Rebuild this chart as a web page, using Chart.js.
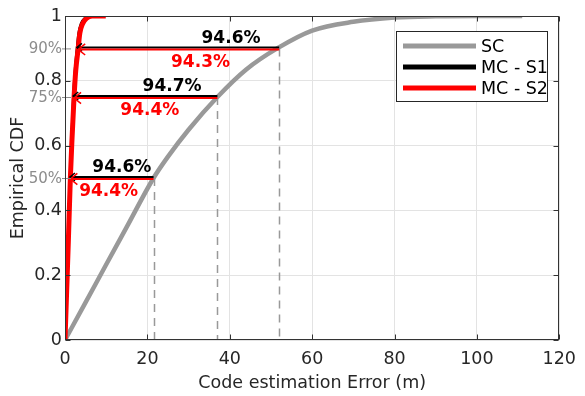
<!DOCTYPE html>
<html>
<head>
<meta charset="utf-8">
<script src="https://cdn.jsdelivr.net/npm/chart.js@4/dist/chart.umd.min.js"></script>
<style>
  body { margin: 0; background: #fff; }
  #wrap { width: 585px; height: 396px; position: relative; }
</style>
</head>
<body>
<div id="wrap"><canvas id="cdf"></canvas></div>
<script>
// ── Data ─────────────────────────────────────────────────────────────────────
const scX = [0, 5, 10, 15, 21.5, 25, 30, 37, 44, 51.5, 60, 70, 80, 90, 100, 111];
const scY = [0, 0.116, 0.233, 0.349, 0.5, 0.566, 0.649, 0.75, 0.835, 0.9, 0.955, 0.982, 0.995, 0.999, 1, 1];

const s1X = [0, 0.35, 0.75, 1.2, 1.6, 2.0, 2.4, 2.9, 3.3, 3.9, 4.8, 6.0, 8.0];
const s1Y = [0, 0.15, 0.3, 0.5, 0.62, 0.75, 0.83, 0.9, 0.947, 0.977, 0.993, 1, 1];

const s2X = [0, 0.4, 0.8, 1.3, 1.7, 2.2, 2.6, 3.2, 3.6, 4.3, 5.2, 6.6, 9.9];
const s2Y = [0, 0.15, 0.3, 0.5, 0.62, 0.75, 0.83, 0.9, 0.947, 0.977, 0.993, 1, 1];

// percentile arrows: level, where SC / S1 / S2 reach it, and the reduction labels
const levels     = [0.5, 0.75, 0.9];
const levelNames = ['50%', '75%', '90%'];
const scAt = [21.5, 37, 52];
const s1At = [1.2, 2.0, 2.9];
const s2At = [1.3, 2.2, 3.2];
const s1Pct = ['94.6%', '94.7%', '94.6%'];
const s2Pct = ['94.4%', '94.4%', '94.3%'];
const s1LabelX = [13.8, 26, 40.3];   // text anchor (data x)
const s2LabelX = [10.6, 20.6, 32.9];

const FONT = "'DejaVu Sans', Verdana, sans-serif";
const pts = (xs, ys) => xs.map((v, i) => ({x: v, y: ys[i]}));

// ── Helpers ──────────────────────────────────────────────────────────────────
function arrow(ctx, x0, x1, y, color, head) {
  ctx.strokeStyle = color;
  ctx.lineWidth = 2;
  ctx.beginPath(); ctx.moveTo(x0, y); ctx.lineTo(x1, y); ctx.stroke();
  ctx.lineWidth = 1.5;
  ctx.beginPath();
  ctx.moveTo(x1 + head, y - head * 0.8);
  ctx.lineTo(x1, y);
  ctx.lineTo(x1 + head, y + head * 0.8);
  ctx.stroke();
}

// ── Overlay plugin: drop lines, arrows, labels, box, legend ──────────────────
const overlay = {
  id: 'overlay',
  beforeDatasetsDraw(chart) {
    const {ctx, chartArea: a, scales: {x, y}} = chart;
    ctx.save();
    ctx.strokeStyle = '#999';
    ctx.lineWidth = 1.5;
    ctx.setLineDash([8, 6]);
    levels.forEach((lv, i) => {
      const px = Math.round(x.getPixelForValue(scAt[i])) + 0.5;
      ctx.beginPath();
      ctx.moveTo(px, y.getPixelForValue(lv));
      ctx.lineTo(px, a.bottom);
      ctx.stroke();
    });
    ctx.restore();
  },
  afterDatasetsDraw(chart) {
    const {ctx, chartArea: a, scales: {x, y}} = chart;
    ctx.save();
    levels.forEach((lv, i) => {
      const py = y.getPixelForValue(lv);
      const xs = x.getPixelForValue(scAt[i]);
      arrow(ctx, xs, x.getPixelForValue(s1At[i]), py - 1, '#000', 5);
      arrow(ctx, xs, x.getPixelForValue(s2At[i]), py + 1, '#ff0000', 7);

      ctx.font = 'bold 17px ' + FONT;
      ctx.textAlign = 'center';
      ctx.textBaseline = 'middle';
      ctx.fillStyle = '#000';
      ctx.fillText(s1Pct[i], x.getPixelForValue(s1LabelX[i]), py - 10);
      ctx.fillStyle = '#ff0000';
      ctx.fillText(s2Pct[i], x.getPixelForValue(s2LabelX[i]), py + 14);

      // gray percentile markers on the y axis
      ctx.font = '15px ' + FONT;
      ctx.textAlign = 'right';
      ctx.fillStyle = '#8c8c8c';
      ctx.fillText(levelNames[i], a.left - 3, py + 1);
      ctx.strokeStyle = '#8c8c8c';
      ctx.lineWidth = 1;
      ctx.beginPath(); ctx.moveTo(a.left - 3, py + 0.5); ctx.lineTo(a.left + 6, py + 0.5); ctx.stroke();
    });
    ctx.restore();
  },
  afterDraw(chart) {
    const {ctx, chartArea: a, scales: {x, y}} = chart;
    ctx.save();
    // axes box + inward ticks
    ctx.strokeStyle = '#333';
    ctx.lineWidth = 1;
    const L = Math.round(a.left) + 0.5, R = Math.round(a.right) - 0.5;
    const T = Math.round(a.top) + 0.5, B = Math.round(a.bottom) - 0.5;
    ctx.strokeRect(L, T, R - L, B - T);
    ctx.beginPath();
    x.ticks.forEach(t => {
      const px = Math.round(x.getPixelForValue(t.value)) + 0.5;
      ctx.moveTo(px, B); ctx.lineTo(px, B - 5);
      ctx.moveTo(px, T); ctx.lineTo(px, T + 5);
    });
    y.ticks.forEach(t => {
      const py = Math.round(y.getPixelForValue(t.value)) + 0.5;
      ctx.moveTo(L, py); ctx.lineTo(L + 5, py);
      ctx.moveTo(R, py); ctx.lineTo(R - 5, py);
    });
    ctx.stroke();

    // legend inside the plot (top right)
    const bx = 396.5, by = 31.5, bw = 151, bh = 70;
    ctx.fillStyle = '#fff';
    ctx.fillRect(bx, by, bw, bh);
    ctx.strokeStyle = '#262626';
    ctx.strokeRect(bx, by, bw, bh);
    ctx.font = '17.5px ' + FONT;
    ctx.textAlign = 'left';
    ctx.textBaseline = 'middle';
    chart.data.datasets.forEach((d, i) => {
      const ry = 46 + i * 21;
      ctx.strokeStyle = d.borderColor;
      ctx.lineWidth = 5;
      ctx.beginPath(); ctx.moveTo(403, ry); ctx.lineTo(476, ry); ctx.stroke();
      ctx.fillStyle = '#000';
      ctx.fillText(d.label, 481, ry + 1);
    });
    ctx.restore();
  }
};

// ── Chart ────────────────────────────────────────────────────────────────────
const ds = (label, color, data, width, order) => ({
  label, data, borderColor: color, backgroundColor: color,
  borderWidth: width, pointRadius: 0, fill: false, order,
  cubicInterpolationMode: 'monotone'
});

new Chart(document.getElementById('cdf'), {
  type: 'line',
  data: {
    datasets: [
      ds('SC',      '#999999', pts(scX, scY), 4.5, 3),
      ds('MC - S1', '#000000', pts(s1X, s1Y), 2.5, 2),
      ds('MC - S2', '#ff0000', pts(s2X, s2Y), 5,   1),
    ]
  },
  options: {
    animation: false,
    responsive: true,
    maintainAspectRatio: false,
    layout: { padding: { top: 16, right: 19, left: 0, bottom: 0 } },
    plugins: { legend: { display: false }, tooltip: { enabled: false } },
    scales: {
      x: {
        type: 'linear', min: 0, max: 120,
        ticks: { stepSize: 20, color: '#262626', padding: 9, font: { family: FONT, size: 17.5 } },
        grid: { color: '#e3e3e3', drawTicks: false },
        border: { display: false },
        title: { display: true, text: 'Code estimation Error (m)', color: '#262626',
                 padding: { top: 0, bottom: 2 }, font: { family: FONT, size: 17.5 } },
        afterFit: s => { s.height = 56; }
      },
      y: {
        min: 0, max: 1,
        ticks: { stepSize: 0.2, color: '#262626', padding: 3, font: { family: FONT, size: 17.5 },
                 callback: v => (v === 0 || v === 1) ? String(v) : v.toFixed(1) },
        grid: { color: '#e3e3e3', drawTicks: false },
        border: { display: false },
        title: { display: true, text: 'Empirical CDF', color: '#262626',
                 padding: { top: 8, bottom: 0 }, font: { family: FONT, size: 17.5 } },
        afterFit: s => { s.width = 65; }
      }
    }
  },
  plugins: [overlay]
});
</script>
</body>
</html>
